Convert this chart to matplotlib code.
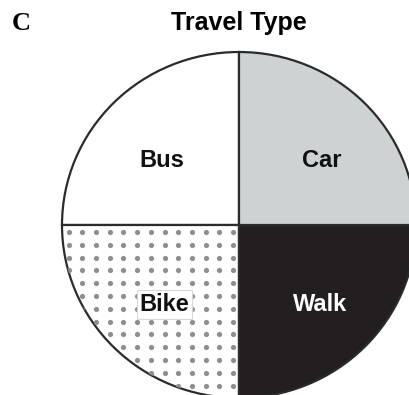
import numpy as np
import matplotlib
matplotlib.use("Agg")
import matplotlib.pyplot as plt

# data: four equal travel types, drawn counter-clockwise from 12 o'clock
labels = ["Bus", "Bike", "Walk", "Car"]
shares = [25, 25, 25, 25]
colors = ["#ffffff", "#ffffff", "#231f20", "#cfd2d2"]
text_colors = ["#111111", "#111111", "#ffffff", "#111111"]

# where each label sits inside its wedge (axes data units)
label_pos = [(-0.435, 0.39), (-0.42, -0.445), (0.46, -0.445), (0.47, 0.39)]

W, H = 409, 395
fig = plt.figure(figsize=(W / 100, H / 100), dpi=100)

# pie centre (239, 225) px, radii 177 x 173 px
cx, cy, rx, ry = 239, 225, 177, 173
ax = fig.add_axes([(cx - rx) / W, 1 - (cy + ry) / H, 2 * rx / W, 2 * ry / H])

wedges, texts = ax.pie(
    shares, labels=labels, colors=colors, startangle=90, counterclock=True,
    radius=1,
    wedgeprops=dict(edgecolor="#2b2b2b", linewidth=1.6),
    textprops=dict(fontsize=17, fontweight="bold", family="Liberation Sans"),
)
ax.set_aspect("auto")
ax.set_xlim(-1, 1)
ax.set_ylim(-1, 1)

for t, c, p in zip(texts, text_colors, label_pos):
    t.set_position(p)
    t.set_ha("center")
    t.set_va("center_baseline")
    t.set_color(c)

# Bike label sits in a small white box
texts[1].set_bbox(dict(boxstyle="square,pad=0.12", fc="white", ec="#d8d8d8", lw=0.8))

# dotted fill for the Bike wedge
gx = -(6 + 13.7 * np.arange(14)) / rx
gy = -(7 + 12.8 * np.arange(14)) / ry
X, Y = np.meshgrid(gx, gy)
dots = ax.scatter(X.ravel(), Y.ravel(), s=14, color="#8e8e8e", linewidths=0, zorder=1.5)
dots.set_clip_path(wedges[1])
texts[1].set_zorder(3)

fig.text(cx / W, 1 - 23 / H, "Travel Type", ha="center", va="center",
         fontsize=18, fontweight="bold", family="Liberation Sans")
fig.text(21.5 / W, 1 - 23.5 / H, "C", ha="center", va="center",
         fontsize=19, fontweight="bold", family="Liberation Serif")

fig.savefig("out.png", dpi=100)
